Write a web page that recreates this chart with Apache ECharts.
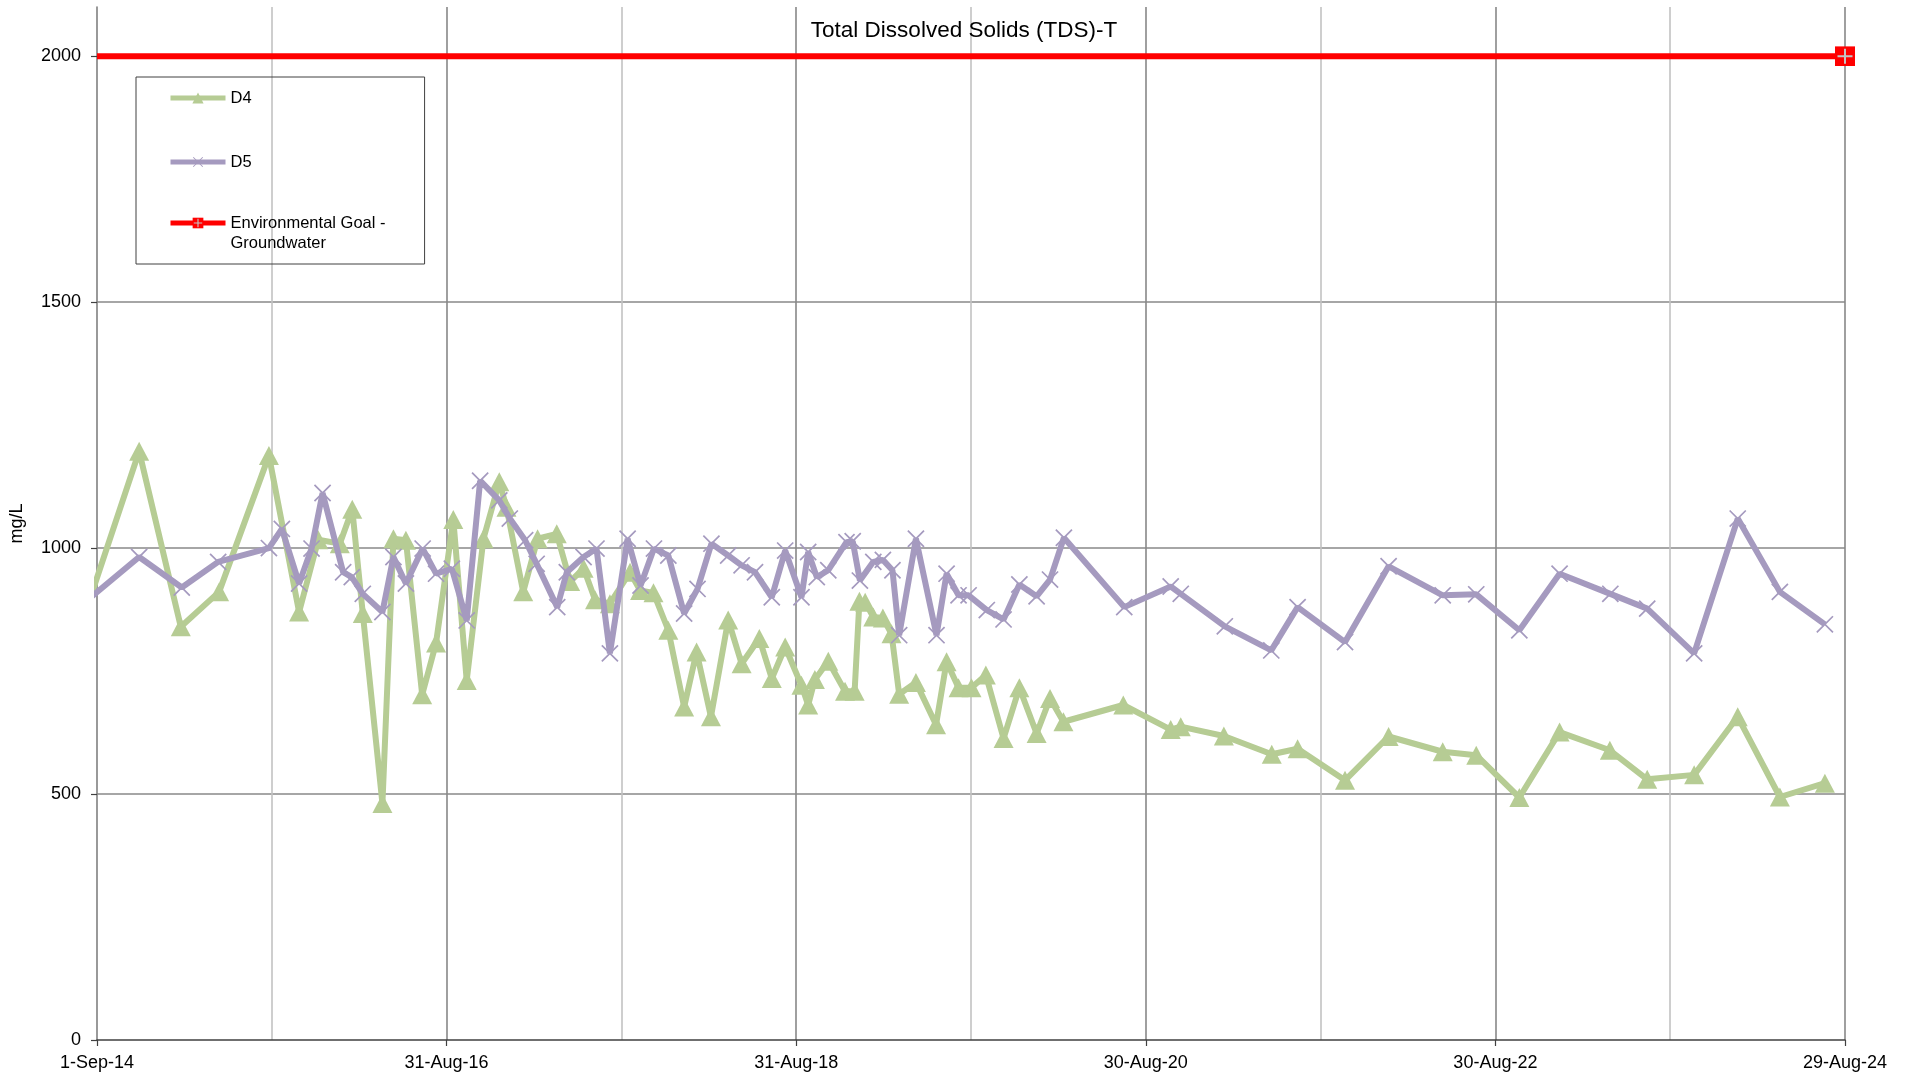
<!DOCTYPE html>
<html>
<head>
<meta charset="utf-8">
<title>Total Dissolved Solids (TDS)-T</title>
<script src="https://cdn.jsdelivr.net/npm/echarts@6/dist/echarts.min.js"></script>
<style>
  html, body { margin: 0; padding: 0; background: #ffffff; }
  #chart { width: 1908px; height: 1078px; }
</style>
</head>
<body>
<div id="chart"></div>
<script>
// Sampling dates and TDS results (mg/L) for well D4
const d4Dates = [
  '2014-07-23', '2014-11-28', '2015-02-23', '2015-05-14', '2015-08-26', '2015-10-28', '2015-12-07',
  '2016-01-21', '2016-02-16', '2016-03-09', '2016-04-19', '2016-05-12', '2016-06-07', '2016-07-11',
  '2016-08-09', '2016-09-14', '2016-10-12', '2016-11-16', '2016-12-19', '2017-01-03', '2017-02-07',
  '2017-03-09', '2017-04-18', '2017-05-16', '2017-06-13', '2017-07-07', '2017-08-07', '2017-09-18',
  '2017-10-09', '2017-11-06', '2017-12-07', '2018-01-09', '2018-02-04', '2018-03-06', '2018-04-11',
  '2018-05-09', '2018-06-15', '2018-07-11', '2018-08-08', '2018-09-11', '2018-09-25', '2018-10-09',
  '2018-11-06', '2018-12-11', '2018-12-31', '2019-01-10', '2019-01-22', '2019-02-08', '2019-02-28',
  '2019-03-18', '2019-04-03', '2019-05-08', '2019-06-19', '2019-07-11', '2019-08-05', '2019-09-01',
  '2019-10-01', '2019-11-07', '2019-12-10', '2020-01-15', '2020-02-12', '2020-03-11', '2020-07-14',
  '2020-10-21', '2020-11-11', '2021-02-09', '2021-05-20', '2021-07-13', '2021-10-20', '2022-01-19',
  '2022-05-12', '2022-07-21', '2022-10-19', '2023-01-11', '2023-04-26', '2023-07-13', '2023-10-19',
  '2024-01-18', '2024-04-15', '2024-07-18'
];
const d4Values = [
  823, 1197, 840, 911, 1188, 870, 1017,
  1009, 1079, 867, 481, 1019, 1016, 702,
  807, 1058, 731, 1019, 1135, 1083, 911,
  1019, 1029, 932, 959, 895, 887, 951,
  914, 909, 833, 677, 789, 657, 854,
  765, 816, 735, 799, 721, 681, 733,
  770, 709, 709, 892, 890, 860, 858,
  826, 703, 727, 641, 769, 716, 716,
  742, 613, 716, 623, 694, 647, 681,
  631, 637, 618, 581, 592, 528, 617,
  586, 579, 493, 626, 589, 530, 539,
  657, 494, 522
];

// Sampling dates and TDS results (mg/L) for well D5
const d5Dates = [
  '2014-07-23', '2014-11-28', '2015-02-25', '2015-05-12', '2015-08-26', '2015-09-22', '2015-10-28',
  '2015-11-23', '2015-12-16', '2016-01-28', '2016-02-15', '2016-03-09', '2016-04-19', '2016-05-12',
  '2016-06-07', '2016-07-12', '2016-08-09', '2016-09-11', '2016-10-12', '2016-11-09', '2016-12-19',
  '2017-01-10', '2017-02-11', '2017-03-07', '2017-04-19', '2017-05-09', '2017-06-13', '2017-07-10',
  '2017-08-07', '2017-09-13', '2017-10-10', '2017-11-07', '2017-12-07', '2018-01-09', '2018-02-06',
  '2018-03-07', '2018-04-11', '2018-05-09', '2018-06-06', '2018-07-11', '2018-08-08', '2018-09-11',
  '2018-09-25', '2018-10-13', '2018-11-06', '2018-12-14', '2018-12-27', '2019-01-11', '2019-02-08',
  '2019-02-28', '2019-03-20', '2019-04-03', '2019-05-08', '2019-06-20', '2019-07-11', '2019-08-05',
  '2019-08-26', '2019-10-03', '2019-11-07', '2019-12-10', '2020-01-15', '2020-02-12', '2020-03-12',
  '2020-07-16', '2020-10-21', '2020-11-11', '2021-02-11', '2021-05-19', '2021-07-13', '2021-10-20',
  '2022-01-19', '2022-05-12', '2022-07-21', '2022-10-19', '2023-01-11', '2023-04-27', '2023-07-13',
  '2023-10-19', '2024-01-18', '2024-04-15', '2024-07-18'
];
const d5Values = [
  878, 982, 920, 972, 1000, 1039, 928,
  999, 1112, 951, 941, 907, 870, 982,
  928, 999, 948, 958, 853, 1137, 1097,
  1060, 1016, 968, 880, 951, 982, 999,
  786, 1019, 924, 999, 985, 867, 917,
  1009, 985, 965, 951, 900, 995, 900,
  992, 941, 955, 1012, 1014, 934, 972,
  976, 955, 823, 1019, 823, 948, 904,
  904, 874, 855, 926, 902, 936, 1021,
  880, 922, 907, 841, 792, 880, 809,
  963, 904, 906, 833, 948, 907, 877,
  786, 1060, 911, 845
];

// Environmental goal for groundwater (mg/L)
const goalName = 'Environmental Goal - Groundwater';
const goalDates = ['2014-09-01', '2024-08-29'];
const goalValues = [2000, 2000];

// Axis tick labels
const xTickLabels = ['1-Sep-14', '31-Aug-16', '31-Aug-18', '30-Aug-20', '30-Aug-22', '29-Aug-24'];
const yTickValues = [0, 500, 1000, 1500, 2000];

const DAY = 86400000;
const toTime = s => {
  const p = s.split('-').map(Number);
  return Date.UTC(p[0], p[1] - 1, p[2]);
};
const xMin = toTime(goalDates[0]);
const xInterval = 730 * DAY;
const xMax = xMin + 5 * xInterval;

const FONT = "'Liberation Sans', Arial, Helvetica, sans-serif";
const GREEN = '#B6CC94';
const PURPLE = '#A59ABF';

const svgSymbol = svg => 'image://data:image/svg+xml;charset=utf-8,' + encodeURIComponent(svg);
const crossMark = svgSymbol(
  "<svg xmlns='http://www.w3.org/2000/svg' width='40' height='40' viewBox='0 0 20 20'>" +
  "<path d='M1.5 1.5L18.5 18.5M18.5 1.5L1.5 18.5' stroke='" + PURPLE + "' stroke-width='1.8' fill='none'/></svg>"
);
const goalMark = svgSymbol(
  "<svg xmlns='http://www.w3.org/2000/svg' width='40' height='40' viewBox='0 0 20 20'>" +
  "<rect x='0' y='0' width='20' height='20' fill='#FF0000'/>" +
  "<path d='M10 2.5V17.5M2.5 10H17.5' stroke='#C4C4C4' stroke-width='2' fill='none'/></svg>"
);

const pairs = (dates, values) => dates.map((d, i) => [toTime(d), values[i]]);

const legendText = { fontFamily: FONT, fontSize: 16.5, lineHeight: 20, color: '#000000' };

const chart = echarts.init(document.getElementById('chart'), null, { renderer: 'canvas' });

chart.setOption({
  animation: false,
  backgroundColor: '#ffffff',
  textStyle: { fontFamily: FONT },
  title: {
    text: 'Total Dissolved Solids (TDS)-T',
    left: 964,
    top: 19,
    textAlign: 'center',
    padding: 0,
    textStyle: { fontFamily: FONT, fontSize: 22.5, fontWeight: 'normal', color: '#000000' }
  },
  grid: { left: 97, right: 63, top: 7, bottom: 38, containLabel: false, outerBoundsMode: 'none' },
  legend: [
    {
      // framed box holding the two wells
      orient: 'vertical',
      left: 136,
      top: 77,
      padding: [11, 173, 92, 32],
      itemGap: 44,
      itemWidth: 55,
      itemHeight: 14,
      borderColor: '#404040',
      borderWidth: 1,
      selectedMode: false,
      lineStyle: { width: 5 },
      textStyle: legendText,
      data: ['D4', 'D5']
    },
    {
      // goal entry: leading blank line keeps the first text line level with its icon
      orient: 'vertical',
      left: 168,
      top: 193,
      padding: 0,
      itemWidth: 55,
      itemHeight: 14,
      selectedMode: false,
      lineStyle: { width: 5 },
      textStyle: legendText,
      formatter: () => '\nEnvironmental Goal -\nGroundwater',
      data: [goalName]
    }
  ],
  xAxis: {
    type: 'value',
    min: xMin,
    max: xMax,
    interval: xInterval,
    axisLine: { show: true, onZero: false, lineStyle: { color: '#404040', width: 1.5 } },
    axisTick: { show: true, length: 6, lineStyle: { color: '#404040', width: 1.2 } },
    axisLabel: {
      margin: 14,
      fontFamily: FONT,
      fontSize: 18,
      color: '#000000',
      formatter: v => xTickLabels[Math.round((v - xMin) / xInterval)] || ''
    },
    splitLine: { show: true, showMinLine: false, showMaxLine: true, lineStyle: { color: '#888888', width: 1.6 } },
    minorTick: { show: false, splitNumber: 2 },
    minorSplitLine: { show: true, lineStyle: { color: '#C2C2C2', width: 1.6 } }
  },
  yAxis: {
    type: 'value',
    min: 0,
    max: 2100,
    interval: 500,
    name: 'mg/L',
    nameLocation: 'middle',
    nameRotate: 90,
    nameGap: 71,
    nameTextStyle: { fontFamily: FONT, fontSize: 18, color: '#000000' },
    axisLine: { show: true, lineStyle: { color: '#808080', width: 1.6 } },
    axisTick: { show: true, length: 6, lineStyle: { color: '#404040', width: 1.2 } },
    axisLabel: {
      showMaxLabel: false,
      margin: 16,
      fontFamily: FONT,
      fontSize: 18,
      color: '#000000',
      formatter: v => yTickValues.indexOf(v) >= 0 ? String(v) : ''
    },
    splitLine: { show: true, showMinLine: false, showMaxLine: false, lineStyle: { color: '#888888', width: 1.6 } }
  },
  series: [
    {
      name: 'D4',
      type: 'line',
      data: pairs(d4Dates, d4Values),
      symbol: 'triangle',
      symbolSize: [20, 19],
      clip: true,
      lineStyle: { color: GREEN, width: 6 },
      itemStyle: { color: GREEN },
      z: 2
    },
    {
      name: 'D5',
      type: 'line',
      data: pairs(d5Dates, d5Values),
      symbol: crossMark,
      symbolSize: 19,
      clip: true,
      lineStyle: { color: PURPLE, width: 6 },
      itemStyle: { color: PURPLE },
      z: 3
    },
    {
      name: goalName,
      type: 'line',
      data: goalDates.map((d, i) => ({
        value: [toTime(d), goalValues[i]],
        symbol: i === 0 ? 'none' : goalMark
      })),
      symbol: goalMark,
      symbolSize: 20,
      clip: false,
      lineStyle: { color: '#FF0000', width: 6 },
      itemStyle: { color: '#FF0000' },
      z: 4
    }
  ]
});
</script>
</body>
</html>
